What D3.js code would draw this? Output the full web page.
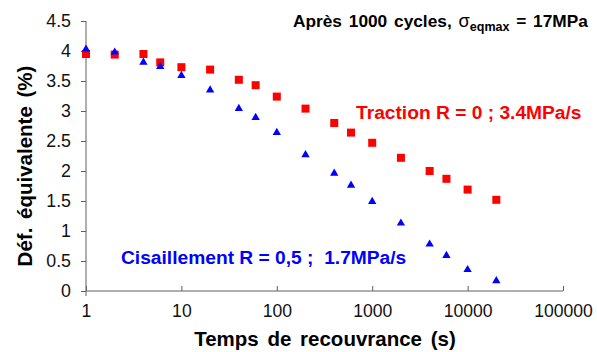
<!DOCTYPE html>
<html><head><meta charset="utf-8">
<script src="https://cdn.jsdelivr.net/npm/d3@7"></script>
<style>
body{margin:0;background:#fff;}
svg text{font-family:"Liberation Sans",Arial,sans-serif;}
</style></head>
<body><svg id="c" width="597" height="352"></svg>
<script>
const times = [1, 2, 4, 6, 10, 20, 40, 60, 100, 200, 400, 600, 1000, 2000, 4000, 6000, 10000, 20000];
const traction = [3.95, 3.94, 3.95, 3.81, 3.73, 3.69, 3.52, 3.43, 3.24, 3.04, 2.80, 2.64, 2.47, 2.22, 2.00, 1.87, 1.69, 1.52];
const cisaillement = [4.03, 3.98, 3.81, 3.74, 3.59, 3.35, 3.04, 2.89, 2.64, 2.27, 1.96, 1.76, 1.49, 1.13, 0.78, 0.59, 0.355, 0.17];
const xTicks = [1, 10, 100, 1000, 10000, 100000];
const yTicks = [0, 0.5, 1, 1.5, 2, 2.5, 3, 3.5, 4, 4.5];

const svg = d3.select("#c");
const x = d3.scaleLog().domain([1, 100000]).range([86, 563]);
const y = d3.scaleLinear().domain([0, 4.5]).range([291, 21]);
const axisCol = "#606060";

// y axis
const ya = svg.append("g").attr("transform", "translate(86,0)")
  .call(d3.axisLeft(y).tickValues(yTicks).tickFormat(d3.format("")).tickSize(5).tickPadding(10));
ya.select(".domain").remove();
ya.selectAll(".tick line").attr("stroke", axisCol);
ya.selectAll(".tick text").attr("font-size", 17.8).attr("fill", "#111");
svg.append("line").attr("x1", 86).attr("x2", 86).attr("y1", y(4.5)).attr("y2", 296).attr("stroke", axisCol);

// x axis
const xa = svg.append("g").attr("transform", "translate(0,291)")
  .call(d3.axisBottom(x).tickValues(xTicks).tickFormat(d3.format("")).tickSize(-5).tickPadding(14));
xa.select(".domain").remove();
xa.selectAll(".tick line").attr("stroke", axisCol);
xa.selectAll(".tick text").attr("font-size", 17.6).attr("fill", "#111");
svg.append("line").attr("x1", 86).attr("x2", 563).attr("y1", 291).attr("y2", 291).attr("stroke", axisCol);

// points
const sq = 8;
svg.append("g").selectAll("rect").data(times).join("rect")
  .attr("x", (d) => x(d) - sq/2).attr("y", (d, i) => y(traction[i]) - sq/2)
  .attr("width", sq).attr("height", sq).attr("fill", "#ff0000");
const tri = d3.symbol().type(d3.symbolTriangle).size(30);
svg.append("g").selectAll("path").data(times).join("path")
  .attr("d", tri).attr("transform", (d, i) => `translate(${x(d)},${y(cisaillement[i])})`)
  .attr("fill", "#0000ff");

// labels
svg.append("text").attr("x", 325).attr("y", 346).attr("text-anchor", "middle")
  .attr("font-size", 20.5).attr("font-weight", "bold").style("word-spacing", "3px").text("Temps de recouvrance (s)");
svg.append("text").attr("transform", "translate(32,166) rotate(-90)").attr("text-anchor", "middle")
  .attr("font-size", 20.5).attr("font-weight", "bold").style("word-spacing", "3px").text("Déf. équivalente (%)");

svg.append("text").attr("x", 356).attr("y", 119).attr("font-size", 19.2).attr("font-weight", "bold")
  .attr("fill", "#ff0000").style("white-space", "pre").text("Traction R = 0 ; 3.4MPa/s");
svg.append("text").attr("x", 121).attr("y", 264).attr("font-size", 19.2).attr("font-weight", "bold")
  .attr("fill", "#0000ff").style("white-space", "pre").text("Cisaillement R = 0,5 ;  1.7MPa/s");

const t = svg.append("text").attr("x", 293).attr("y", 27).attr("font-size", 17.3).attr("font-weight", "bold")
  .style("white-space", "pre").style("word-spacing", "2px");
t.append("tspan").text("Après 1000 cycles, ");
t.append("tspan").attr("font-weight", "normal").attr("font-size", 18.3).text("σ");
t.append("tspan").attr("font-size", 12.5).attr("dy", 4).text("eqmax");
t.append("tspan").attr("dy", -4).text(" = 17MPa");
</script></body></html>
